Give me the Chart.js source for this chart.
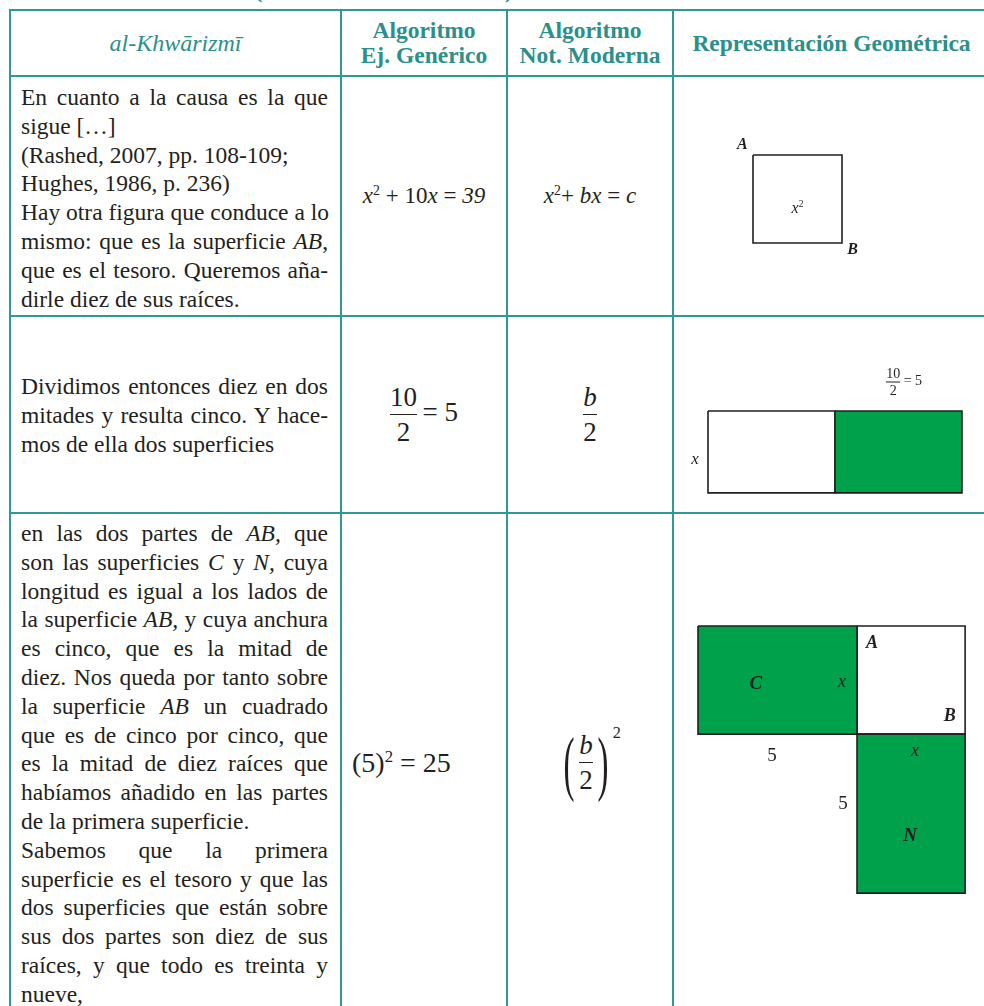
<!DOCTYPE html>
<html><head><meta charset="utf-8">
<script src="https://cdn.jsdelivr.net/npm/chart.js@4.4.1/dist/chart.umd.min.js"></script>
<style>
html,body{margin:0;padding:0;background:#fff;}
body{width:984px;height:1006px;overflow:hidden;position:relative;font-family:"Liberation Serif","Times New Roman",serif;color:#231f20;}
.hl{position:absolute;height:2px;background:#2f9994;}
.vl{position:absolute;width:2px;background:#2f9994;}
.hdr{position:absolute;color:#2b8f8a;font-size:23.5px;display:flex;align-items:center;justify-content:center;text-align:center;line-height:25px;font-weight:bold;}
.txt{position:absolute;font-size:23.5px;}
.ln{height:28.8px;line-height:28.8px;white-space:nowrap;}
.J{text-align:justify;text-align-last:justify;}
.L{text-align:left;}
.eq{position:absolute;display:flex;align-items:center;justify-content:center;white-space:nowrap;}
sup{font-size:0.6em;vertical-align:0.6em;line-height:0;}
.frac{display:inline-flex;flex-direction:column;align-items:center;vertical-align:middle;}
.frac>span{line-height:1;}
.frac>.bar{height:1px;background:#231f20;align-self:stretch;margin:3px 0 4px 0;}
canvas{position:absolute;}
.lbl{position:absolute;transform:translate(-50%,-50%);white-space:nowrap;line-height:1;}
.paren{display:inline-block;font-size:60px;transform:scale(0.55,1.2);line-height:1;vertical-align:middle;}
</style></head>
<body>
<div id="root"></div>
<script>
// ---------------- DATA ----------------
const headerTitles = ['al-Khwārizmī', 'Algoritmo<br>Ej. Genérico', 'Algoritmo<br>Not. Moderna', 'Representación Geométrica'];

const row1Text = [
  ['En cuanto a la causa es la que', 'J'],
  ['sigue […]', 'L'],
  ['(Rashed, 2007, pp. 108-109;', 'L'],
  ['Hughes, 1986, p. 236)', 'L'],
  ['Hay otra figura que conduce a lo', 'J'],
  ['mismo: que es la superficie <i>AB</i>,', 'J'],
  ['que es el tesoro. Queremos aña-', 'J'],
  ['dirle diez de sus raíces.', 'L']
];
const row2Text = [
  ['Dividimos entonces diez en dos', 'J'],
  ['mitades y resulta cinco. Y hace-', 'J'],
  ['mos de ella dos superficies', 'L']
];
const row3Text = [
  ['en las dos partes de <i>AB,</i> que', 'J'],
  ['son las superficies <i>C</i> y <i>N,</i> cuya', 'J'],
  ['longitud es igual a los lados de', 'J'],
  ['la superficie <i>AB,</i> y cuya anchura', 'J'],
  ['es cinco, que es la mitad de', 'J'],
  ['diez. Nos queda por tanto sobre', 'J'],
  ['la superficie <i>AB</i> un cuadrado', 'J'],
  ['que es de cinco por cinco, que', 'J'],
  ['es la mitad de diez raíces que', 'J'],
  ['habíamos añadido en las partes', 'J'],
  ['de la primera superficie.', 'L'],
  ['Sabemos que la primera', 'J'],
  ['superficie es el tesoro y que las', 'J'],
  ['dos superficies que están sobre', 'J'],
  ['sus dos partes son diez de sus', 'J'],
  ['raíces, y que todo es treinta y', 'J'],
  ['nueve,', 'L']
];

// Algorithm cells
const genericEq = [
  '<i>x</i><sup>2</sup> + 10<i>x</i> = <i>39</i>',
  '<span class="frac"><span>10</span><span class="bar"></span><span>2</span></span>&#8201;= 5',
  '(5)<sup>2</sup> = 25'
];
const modernEq = [
  '<i>x</i><sup>2</sup>+ <i>bx</i> = <i>c</i>',
  '<span class="frac"><span><i>b</i></span><span class="bar"></span><span>2</span></span>',
  '<span class="paren">(</span><span class="frac"><span><i>b</i></span><span class="bar"></span><span>2</span></span><span class="paren">)</span><sup style="vertical-align:1.9em">2</sup>'
];

// Figure rectangles [x0, x1, y0, y1] in figure units (y grows downward)
const fig1Square = [0, 1, 0, 1];          // x²
const fig2Left   = [0, 5, 0, 3.2];        // x by x part
const fig2Right  = [5, 10, 0, 3.2];       // 10/2 = 5 part
const fig3C      = [0, 5, 0, 3.4];
const fig3AB     = [5, 8.4, 0, 3.4];
const fig3N      = [5, 8.4, 3.4, 8.4];

// Figure labels: text and anchor in figure units
const fig1Labels = ['<b><i>A</i></b>', '<b><i>B</i></b>', '<i>x</i><sup>2</sup>'];
const fig1LabelAt = [[-0.12, -0.12], [1.12, 1.07], [0.5, 0.6]];
const fig2Labels = ['<i>x</i>', '<span class="frac"><span>10</span><span class="bar" style="margin:1px 0 1px 0"></span><span>2</span></span> = 5'];
const fig2LabelAt = [[-0.51, 1.85], [7.72, -1.13]];
const fig3Labels = ['<b><i>C</i></b>', '<i>x</i>', '<b><i>A</i></b>', '<b><i>B</i></b>', '5', '5', '<i>x</i>', '<b><i>N</i></b>'];
const fig3LabelAt = [[1.82, 1.76], [4.53, 1.73], [5.47, 0.5], [7.92, 2.8], [2.33, 4.03], [4.56, 5.53], [6.82, 3.9], [6.67, 6.54]];

// ---------------- LAYOUT ----------------
const GREEN = '#00a14b';
const INK = '#231f20';
const colX = [10, 341, 507, 673, 990];
const rowY = [10, 76, 316, 513, 1013];

const root = document.getElementById('root');
function el(tag, cls, style, html) {
  const e = document.createElement(tag);
  if (cls) e.className = cls;
  Object.assign(e.style, style || {});
  if (html != null) e.innerHTML = html;
  root.appendChild(e);
  return e;
}

// cut-off title line above table
el('div', null, {position:'absolute', left:'255px', top:'-20px', fontSize:'22px', fontWeight:'bold', color:'#2b8f8a', lineHeight:'22px'}, '(');
el('div', null, {position:'absolute', left:'505px', top:'-20px', fontSize:'22px', fontWeight:'bold', color:'#2b8f8a', lineHeight:'22px'}, ')');

// grid lines
rowY.slice(0, 4).forEach(y => el('div', 'hl', {left:(colX[0]-1)+'px', top:(y-1)+'px', width:(984-colX[0]+1)+'px'}));
colX.slice(0, 4).forEach(x => el('div', 'vl', {left:(x-1)+'px', top:(rowY[0]-1)+'px', height:(1006-rowY[0]+1)+'px'}));

// headers
headerTitles.forEach((h, i) => {
  const d = el('div', 'hdr', {left:colX[i]+'px', top:rowY[0]+'px', width:(colX[i+1]-colX[i])+'px', height:(rowY[1]-rowY[0])+'px'}, '<span>' + h + '</span>');
  if (i === 0) { d.style.fontWeight = 'normal'; d.style.fontStyle = 'italic'; d.style.fontSize = '24px'; }
});

// column-1 text blocks
function textBlock(lines, top) {
  const b = el('div', 'txt', {left:'21px', top:top+'px', width:'307px'});
  lines.forEach(([t, a]) => {
    const l = document.createElement('div');
    l.className = 'ln ' + a;
    l.innerHTML = t;
    b.appendChild(l);
  });
}
textBlock(row1Text, 83);
textBlock(row2Text, 372);
textBlock(row3Text, 519);

// equation cells
const eqFont = [[23, 23], [27, 27], [28, 27]];
for (let r = 0; r < 3; r++) {
  const top = rowY[r+1], h = rowY[r+2] - rowY[r+1];
  const g = el('div', 'eq', {left:colX[1]+'px', top:top+'px', width:(colX[2]-colX[1])+'px', height:h+'px', fontSize:eqFont[r][0]+'px'}, '<span>' + genericEq[r] + '</span>');
  if (r === 2) { g.style.justifyContent = 'flex-start'; g.style.paddingLeft = '11px'; g.style.boxSizing = 'border-box'; }
  el('div', 'eq', {left:colX[2]+'px', top:top+'px', width:(colX[3]-colX[2])+'px', height:h+'px', fontSize:eqFont[r][1]+'px'}, '<span>' + modernEq[r] + '</span>');
}

// ---------------- FIGURES (Chart.js) ----------------
function rectPoints(r) {
  const [x0, x1, y0, y1] = r;
  return [{x:x0, y:y0}, {x:x1, y:y0}, {x:x1, y:y1}, {x:x0, y:y1}, {x:x0, y:y0}];
}
function makeFig(box, origin, ppu, rects, labels, labelAt, labelStyle) {
  const cv = document.createElement('canvas');
  cv.width = box.w; cv.height = box.h;
  cv.style.left = box.left + 'px'; cv.style.top = box.top + 'px';
  root.appendChild(cv);
  const xmin = (box.left - origin[0]) / ppu[0], xmax = xmin + box.w / ppu[0];
  const ymin = (box.top - origin[1]) / ppu[1], ymax = ymin + box.h / ppu[1];
  const datasets = rects.map(r => ({
    data: rectPoints(r.v), showLine: true, pointRadius: 0, tension: 0,
    borderColor: INK, borderWidth: 1.6, borderJoinStyle: 'miter',
    backgroundColor: r.green ? GREEN : 'rgba(255,255,255,0)',
    fill: r.green ? 'shape' : false
  }));
  let placed = false;
  new Chart(cv, {
    type: 'scatter',
    data: { datasets },
    options: {
      responsive: false, animation: false, events: [],
      layout: { padding: 0 },
      plugins: { legend: { display: false }, tooltip: { enabled: false } },
      scales: {
        x: { type: 'linear', display: false, min: xmin, max: xmax },
        y: { type: 'linear', display: false, min: ymin, max: ymax, reverse: true }
      }
    },
    plugins: [{
      id: 'htmlLabels',
      afterRender(chart) {
        if (placed) return; placed = true;
        labels.forEach((t, i) => {
          const px = chart.scales.x.getPixelForValue(labelAt[i][0]);
          const py = chart.scales.y.getPixelForValue(labelAt[i][1]);
          const st = Object.assign({left:(box.left + px)+'px', top:(box.top + py)+'px'}, labelStyle[i]);
          el('div', 'lbl', st, t);
        });
      }
    }]
  });
}

makeFig({left:675, top:78, w:308, h:236}, [753, 155], [89, 88],
  [{v: fig1Square, green: false}],
  fig1Labels, fig1LabelAt,
  [{fontSize:'16px'}, {fontSize:'16px'}, {fontSize:'16px'}]);

makeFig({left:675, top:318, w:308, h:194}, [708, 411], [25.4, 25.6],
  [{v: fig2Right, green: true}, {v: fig2Left, green: false}],
  fig2Labels, fig2LabelAt,
  [{fontSize:'17px'}, {fontSize:'14px'}]);

makeFig({left:675, top:515, w:308, h:491}, [698, 626], [31.8, 31.8],
  [{v: fig3C, green: true}, {v: fig3N, green: true}, {v: fig3AB, green: false}],
  fig3Labels, fig3LabelAt,
  [{fontSize:'19px'}, {fontSize:'18px'}, {fontSize:'18px'}, {fontSize:'18px'}, {fontSize:'19px'}, {fontSize:'19px'}, {fontSize:'18px'}, {fontSize:'19px'}]);
</script>
</body></html>
